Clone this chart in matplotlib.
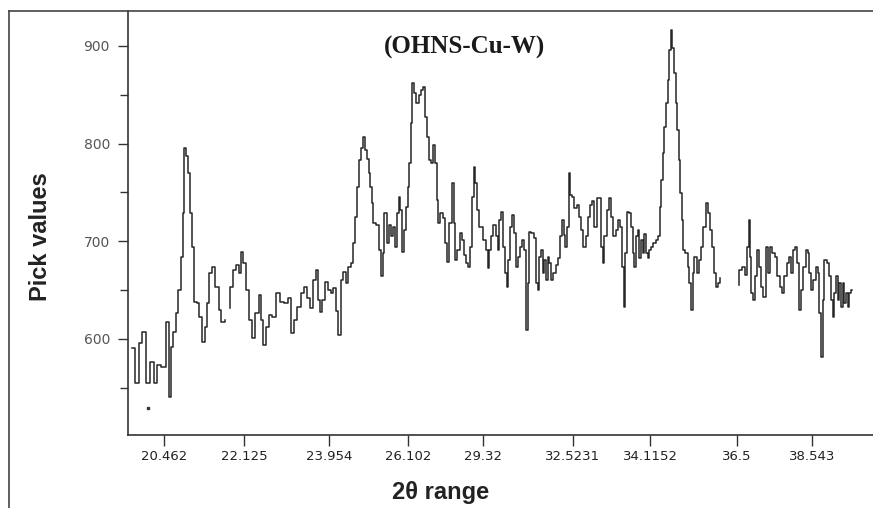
import numpy as np
import matplotlib.pyplot as plt
from matplotlib.lines import Line2D
from matplotlib.ticker import MultipleLocator

# trace in three unbroken pieces: position along the scan, pick value
pos_a = [132, 137, 140, 143, 148, 152, 155, 158, 164, 167,
         170, 172, 174, 177, 179, 182, 183, 184, 187, 189,
         191, 193, 195, 198, 200, 203, 206, 208, 210, 213,
         217, 220, 222, 227]
pick_a = [591, 555, 596, 607, 555, 576, 555, 573, 571, 617,
          541, 592, 607, 627, 650, 684, 729, 796, 787, 770,
          729, 694, 638, 637, 623, 597, 612, 637, 668, 674,
          653, 630, 617, 619]

pos_b = [228, 231, 234, 238, 240, 242, 244, 247, 251, 253,
         257, 260, 262, 264, 267, 270, 274, 278, 282, 286,
         289, 292, 295, 299, 302, 306, 308, 311, 315, 317,
         319, 321, 323, 327, 329, 332, 334, 337, 339, 342,
         344, 347, 349, 352, 354, 356, 358, 360, 362, 363,
         366, 368, 369, 371, 372, 374, 378, 380, 382, 383,
         385, 388, 390, 392, 394, 396, 398, 399, 401, 403,
         404, 407, 408, 410, 411, 413, 415, 417, 420, 422,
         424, 426, 428, 429, 432, 434, 436, 437, 438, 441,
         444, 446, 448, 450, 453, 454, 456, 458, 461, 463,
         465, 467, 469, 471, 473, 474, 476, 478, 480, 482,
         484, 487, 488, 490, 492, 494, 497, 498, 500, 502,
         504, 506, 507, 509, 511, 513, 515, 517, 519, 521,
         523, 525, 527, 528, 530, 532, 535, 537, 538, 540,
         542, 543, 545, 547, 548, 550, 552, 554, 557, 559,
         561, 563, 564, 566, 568, 569, 571, 573, 575, 578,
         580, 582, 584, 587, 589, 591, 593, 595, 598, 599,
         602, 603, 605, 608, 610, 612, 614, 617, 619, 621,
         623, 624, 626, 628, 630, 632, 633, 635, 637, 638,
         640, 642, 643, 645, 647, 648, 650, 652, 654, 657,
         659, 660, 662, 663, 665, 667, 668, 670, 671, 673,
         675, 676, 678, 679, 681, 682, 683, 687, 688, 690,
         692, 693, 695, 698, 700, 702, 704, 707, 709, 711,
         713, 715, 717, 718, 722]
pick_b = [632, 653, 671, 676, 668, 689, 678, 650, 619, 601,
          627, 645, 619, 594, 612, 625, 623, 647, 638, 637,
          642, 606, 619, 633, 647, 653, 642, 632, 660, 671,
          640, 628, 640, 658, 650, 647, 652, 629, 604, 660,
          669, 657, 674, 678, 698, 725, 756, 783, 796, 807,
          794, 784, 770, 756, 739, 719, 717, 691, 664, 688,
          729, 698, 717, 705, 715, 694, 729, 745, 732, 689,
          712, 735, 756, 780, 821, 862, 852, 842, 850, 855,
          858, 827, 807, 783, 780, 799, 780, 742, 719, 729,
          724, 698, 679, 719, 760, 719, 681, 691, 708, 701,
          686, 678, 674, 694, 745, 776, 760, 732, 715, 715,
          701, 691, 673, 691, 705, 717, 705, 691, 722, 730,
          694, 668, 653, 681, 715, 727, 708, 674, 684, 694,
          701, 691, 609, 657, 710, 708, 703, 657, 650, 684,
          691, 668, 681, 660, 684, 678, 660, 668, 676, 683,
          705, 722, 706, 694, 715, 770, 747, 745, 734, 737,
          725, 712, 694, 705, 725, 737, 741, 715, 744, 744,
          694, 678, 705, 732, 744, 725, 705, 712, 722, 715,
          674, 633, 688, 730, 729, 715, 688, 674, 705, 712,
          683, 701, 688, 707, 688, 683, 691, 694, 698, 701,
          705, 735, 763, 790, 817, 842, 865, 896, 916, 898,
          872, 842, 814, 783, 749, 722, 691, 688, 674, 657,
          630, 668, 684, 668, 681, 694, 715, 739, 729, 712,
          694, 668, 653, 657, 662]

pos_c = [738, 740, 743, 746, 748, 749, 750, 752, 753, 756,
         758, 760, 762, 764, 767, 769, 771, 773, 776, 778,
         781, 783, 785, 788, 790, 792, 793, 796, 798, 800,
         802, 804, 807, 808, 810, 812, 814, 817, 818, 820,
         822, 823, 825, 828, 830, 832, 833, 835, 837, 838,
         840, 842, 843, 845, 847, 848, 850, 852]
pick_c = [655, 671, 674, 666, 694, 722, 684, 647, 640, 664,
          691, 674, 653, 643, 694, 668, 694, 688, 684, 664,
          653, 647, 664, 678, 684, 668, 691, 694, 678, 630,
          650, 674, 691, 688, 668, 650, 660, 674, 668, 627,
          582, 640, 681, 678, 664, 640, 623, 647, 664, 640,
          657, 633, 657, 637, 647, 633, 647, 650]

stray_pos = [148]
stray_pick = [529]

tick_pos = [164, 244, 329, 408, 483, 573, 650, 737, 812]
tick_labels = ['20.462', '22.125', '23.954', '26.102', '29.32',
               '32.5231', '34.1152', '36.5', '38.543']

x = np.concatenate([pos_a, [np.nan], pos_b, [np.nan], pos_c]).astype(float)
y = np.concatenate([pick_a, [np.nan], pick_b, [np.nan], pick_c]).astype(float)

fig = plt.figure(figsize=(8.73, 5.08), dpi=100)
ax = fig.add_axes([128 / 873, 73 / 508, 745 / 873, 424 / 508])

ax.plot(x, y, color='#262626', lw=1.1, drawstyle='steps-mid')
ax.plot(stray_pos, stray_pick, 's', ms=1.5, color='#333333')

ax.set_xlim(128, 873)
ax.set_ylim(501.7, 935.8)

ax.set_xticks(tick_pos)
ax.set_xticklabels(tick_labels)
ax.yaxis.set_major_locator(MultipleLocator(100))
ax.yaxis.set_minor_locator(MultipleLocator(50))
ax.set_yticks([600, 700, 800, 900])

for s in ['top', 'right']:
    ax.spines[s].set_visible(False)
for s in ['left', 'bottom']:
    ax.spines[s].set_color('#333333')
    ax.spines[s].set_linewidth(1.2)

ax.tick_params(axis='y', which='major', length=7, width=1.0, color='#333333',
               labelsize=10, labelcolor='#555555', pad=6)
ax.tick_params(axis='y', which='minor', length=6, width=1.0, color='#333333')
ax.tick_params(axis='x', which='major', length=8, width=1.0, color='#333333',
               labelsize=9.5, labelcolor='#222222', pad=3)

ax.set_xlabel('2θ range', fontsize=17, fontweight='bold', family='Liberation Sans',
              color='#222222')
ax.xaxis.set_label_coords(0.419, -0.108)
ax.set_ylabel('Pick values', fontsize=17, fontweight='bold', family='Liberation Sans',
              color='#222222')
ax.yaxis.set_label_coords(-0.102, 0.467)
ax.text(0.452, 0.915, '(OHNS-Cu-W)', transform=ax.transAxes, ha='center', va='center',
        fontsize=18, fontweight='bold', family='Liberation Serif', color='#1a1a1a')

# outer frame of the original figure (left and top edges visible)
fig.add_artist(Line2D([9 / 873, 9 / 873], [0, 497 / 508], color='#444444', lw=1.2))
fig.add_artist(Line2D([9 / 873, 1], [497 / 508, 497 / 508], color='#444444', lw=1.2))

fig.savefig('out.png', dpi=100)
